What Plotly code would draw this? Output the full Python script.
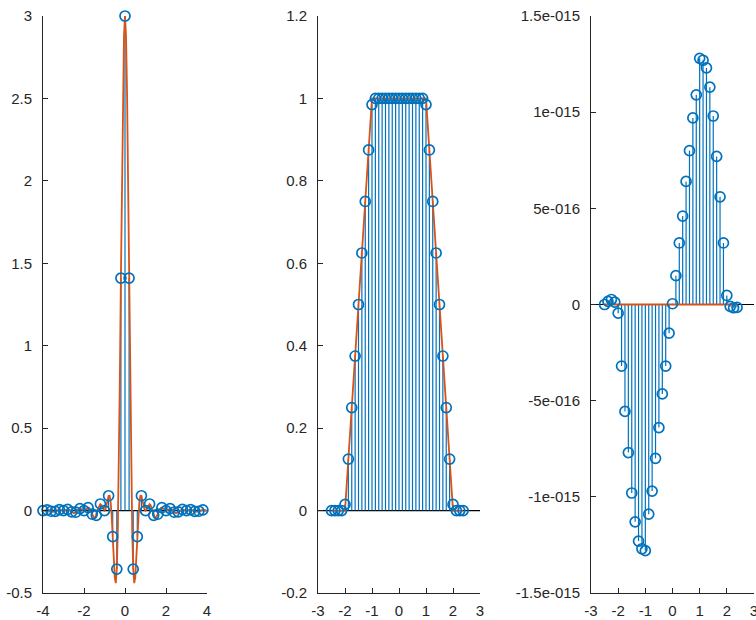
import plotly.graph_objects as go

# ---------------- data ----------------
# panel 1: spectrum samples (stems) and continuous transform (orange)
freq_x = [-4.0, -3.8, -3.6, -3.4, -3.2, -3.0, -2.8, -2.6, -2.4, -2.2,
          -2.0, -1.8, -1.6, -1.4, -1.2, -1.0, -0.8, -0.6, -0.4, -0.2,
          0.0, 0.2, 0.4, 0.6, 0.8, 1.0, 1.2, 1.4, 1.6, 1.8,
          2.0, 2.2, 2.4, 2.6, 2.8, 3.0, 3.2, 3.4, 3.6, 3.8]
spec_y = [0.0, 0.004, -0.004, -0.005, 0.006, 0.0, 0.007, -0.008, -0.010, 0.012,
          0.0, 0.018, -0.022, -0.029, 0.040, 0.0, 0.090, -0.158, -0.355, 1.41,
          3.0, 1.41, -0.355, -0.158, 0.090, 0.0, 0.040, -0.029, -0.022, 0.018,
          0.0, 0.012, -0.010, -0.008, 0.007, 0.0, 0.006, -0.005, -0.004, 0.004]

ft_x = [-4.0, -3.9, -3.8, -3.7, -3.6, -3.5, -3.4, -3.3, -3.2, -3.1,
        -3.0, -2.9, -2.8, -2.7, -2.6, -2.5, -2.4, -2.3, -2.2, -2.1,
        -2.0, -1.9, -1.85, -1.8, -1.75, -1.7, -1.65, -1.6, -1.55, -1.5,
        -1.45, -1.4, -1.35, -1.3, -1.25, -1.2, -1.15, -1.1, -1.05, -1.0,
        -0.95, -0.9, -0.85, -0.8, -0.75, -0.7, -0.65, -0.6, -0.55, -0.5,
        -0.45, -0.4, -0.35, -0.3, -0.25, -0.2, -0.15, -0.1, -0.05, 0.0,
        0.05, 0.1, 0.15, 0.2, 0.25, 0.3, 0.35, 0.4, 0.45, 0.5,
        0.55, 0.6, 0.65, 0.7, 0.75, 0.8, 0.85, 0.9, 0.95, 1.0,
        1.05, 1.1, 1.15, 1.2, 1.25, 1.3, 1.35, 1.4, 1.45, 1.5,
        1.55, 1.6, 1.65, 1.7, 1.75, 1.8, 1.85, 1.9, 2.0, 2.1,
        2.2, 2.3, 2.4, 2.5, 2.6, 2.7, 2.8, 2.9, 3.0, 3.1,
        3.2, 3.3, 3.4, 3.5, 3.6, 3.7, 3.8, 3.9, 4.0]
ft_y = [0.0, 0.002, 0.004, 0.002, -0.004, -0.008, -0.005, 0.002, 0.006, 0.003,
        0.0, 0.003, 0.007, 0.003, -0.008, -0.016, -0.010, 0.005, 0.012, 0.004,
        0.0, 0.007, 0.013, 0.018, 0.017, 0.009, -0.005, -0.022, -0.037, -0.045,
        -0.042, -0.029, -0.008, 0.015, 0.032, 0.039, 0.034, 0.021, 0.007, 0.0,
        0.008, 0.031, 0.063, 0.089, 0.090, 0.052, -0.033, -0.157, -0.295, -0.405,
        -0.440, -0.354, -0.115, 0.282, 0.811, 1.416, 2.019, 2.533, 2.878, 3.0,
        2.878, 2.533, 2.019, 1.416, 0.811, 0.282, -0.115, -0.354, -0.440, -0.405,
        -0.295, -0.157, -0.033, 0.052, 0.090, 0.089, 0.063, 0.031, 0.008, 0.0,
        0.007, 0.021, 0.034, 0.039, 0.032, 0.015, -0.008, -0.029, -0.042, -0.045,
        -0.037, -0.022, -0.005, 0.009, 0.017, 0.018, 0.013, 0.007, 0.0, 0.004,
        0.012, 0.005, -0.010, -0.016, -0.008, 0.003, 0.007, 0.003, 0.0, 0.003,
        0.006, 0.002, -0.005, -0.008, -0.004, 0.002, 0.004, 0.002, 0.0]

# panels 2 and 3: time samples
time_x = [-2.5, -2.375, -2.25, -2.125, -2.0, -1.875, -1.75, -1.625, -1.5, -1.375,
          -1.25, -1.125, -1.0, -0.875, -0.75, -0.625, -0.5, -0.375, -0.25, -0.125,
          0.0, 0.125, 0.25, 0.375, 0.5, 0.625, 0.75, 0.875, 1.0, 1.125,
          1.25, 1.375, 1.5, 1.625, 1.75, 1.875, 2.0, 2.125, 2.25, 2.375]
real_y = [0.0, 0.0, 0.0, 0.0, 0.015, 0.125, 0.25, 0.375, 0.5, 0.625,
          0.75, 0.875, 0.985, 1.0, 1.0, 1.0, 1.0, 1.0, 1.0, 1.0,
          1.0, 1.0, 1.0, 1.0, 1.0, 1.0, 1.0, 1.0, 0.985, 0.875,
          0.75, 0.625, 0.5, 0.375, 0.25, 0.125, 0.015, 0.0, 0.0, 0.0]
imag_y = [0.0, 0.16e-16, 0.26e-16, 0.12e-16, -0.45e-16, -3.2e-16, -5.56e-16, -7.7e-16, -9.8e-16, -11.3e-16,
          -12.3e-16, -12.7e-16, -12.8e-16, -10.9e-16, -9.7e-16, -8.0e-16, -6.4e-16, -4.65e-16, -3.2e-16, -1.49e-16,
          0.04e-16, 1.5e-16, 3.2e-16, 4.6e-16, 6.4e-16, 8.0e-16, 9.7e-16, 10.9e-16, 12.8e-16, 12.7e-16,
          12.3e-16, 11.3e-16, 9.8e-16, 7.7e-16, 5.6e-16, 3.2e-16, 0.47e-16, -0.1e-16, -0.17e-16, -0.15e-16]

trap_x = [-2.5, -2.0, -1.0, 1.0, 2.0, 2.375]
trap_y = [0.0, 0.0, 1.0, 1.0, 0.0, 0.0]
zero_x = [-2.5, 2.375]
zero_y = [0.0, 0.0]

y1_ticks = [-0.5, 0, 0.5, 1, 1.5, 2, 2.5, 3]
y1_text = ["-0.5", "0", "0.5", "1", "1.5", "2", "2.5", "3"]
y2_ticks = [-0.2, 0, 0.2, 0.4, 0.6, 0.8, 1.0, 1.2]
y2_text = ["-0.2", "0", "0.2", "0.4", "0.6", "0.8", "1", "1.2"]
y3_ticks = [-1.5e-15, -1e-15, -5e-16, 0, 5e-16, 1e-15, 1.5e-15]
y3_text = ["-1.5e-015", "-1e-015", "-5e-016", "0", "5e-016", "1e-015", "1.5e-015"]
x1_ticks = [-4, -2, 0, 2, 4]
x1_text = ["-4", "-2", "0", "2", "4"]
x23_ticks = [-3, -2, -1, 0, 1, 2, 3]
x23_text = ["-3", "-2", "-1", "0", "1", "2", "3"]

BLUE = "#0072BD"
ORANGE = "#D95319"
AX = "#262626"

fig = go.Figure()


def add_panel(xs, ys, lx, ly, n):
    xa = "x" if n == 1 else "x%d" % n
    ya = "y" if n == 1 else "y%d" % n
    sx, sy = [], []
    for a, b in zip(xs, ys):
        sx += [a, a, None]
        sy += [0, b, None]
    fig.add_trace(go.Scatter(x=sx, y=sy, mode="lines", xaxis=xa, yaxis=ya,
                             line=dict(color=BLUE, width=1.2), hoverinfo="skip",
                             showlegend=False))
    fig.add_trace(go.Scatter(x=lx, y=ly, mode="lines", xaxis=xa, yaxis=ya,
                             line=dict(color=ORANGE, width=1.8),
                             showlegend=False))
    fig.add_trace(go.Scatter(x=xs, y=ys, mode="markers", xaxis=xa, yaxis=ya,
                             marker=dict(symbol="circle-open", size=10, color=BLUE,
                                         line=dict(color=BLUE, width=1.7)),
                             cliponaxis=False, showlegend=False))
    fig.add_shape(type="line", xref="%s domain" % xa, yref=ya,
                  x0=0, x1=1, y0=0, y1=0, layer="below",
                  line=dict(color="black", width=1.2))


add_panel(freq_x, spec_y, ft_x, ft_y, 1)
add_panel(time_x, real_y, trap_x, trap_y, 2)
add_panel(time_x, imag_y, zero_x, zero_y, 3)

W, H = 756, 620
top = 16
bot = 593
ydom = [(H - bot) / H, (H - top) / H]

common = dict(showline=True, linecolor=AX, linewidth=1, ticks="inside",
              ticklen=5, tickcolor=AX, tickwidth=1, showgrid=False,
              zeroline=False, mirror=False, automargin=False,
              ticklabeloverflow="allow",
              tickfont=dict(family="Liberation Sans", size=15, color=AX))

fig.update_layout(
    width=W, height=H,
    margin=dict(l=0, r=0, t=0, b=0, autoexpand=False),
    paper_bgcolor="white", plot_bgcolor="white",
    showlegend=False,
    xaxis=dict(domain=[43 / W, 207 / W], range=[-4, 4], tickvals=x1_ticks,
               ticktext=x1_text, anchor="y", ticklabelstandoff=4, **common),
    yaxis=dict(domain=ydom, range=[-0.5, 3], tickvals=y1_ticks, ticktext=y1_text,
               anchor="x", ticklabelstandoff=7, **common),
    xaxis2=dict(domain=[318 / W, 480 / W], range=[-3, 3], tickvals=x23_ticks,
                ticktext=x23_text, anchor="y2", ticklabelstandoff=4, **common),
    yaxis2=dict(domain=ydom, range=[-0.2, 1.2], tickvals=y2_ticks, ticktext=y2_text,
                anchor="x2", ticklabelstandoff=7, **common),
    xaxis3=dict(domain=[591 / W, 754 / W], range=[-3, 3], tickvals=x23_ticks,
                ticktext=x23_text, anchor="y3", ticklabelstandoff=4, **common),
    yaxis3=dict(domain=ydom, range=[-1.5e-15, 1.5e-15], tickvals=y3_ticks,
                ticktext=y3_text, anchor="x3", ticklabelstandoff=7, **common),
)

fig.write_html("out.html")
